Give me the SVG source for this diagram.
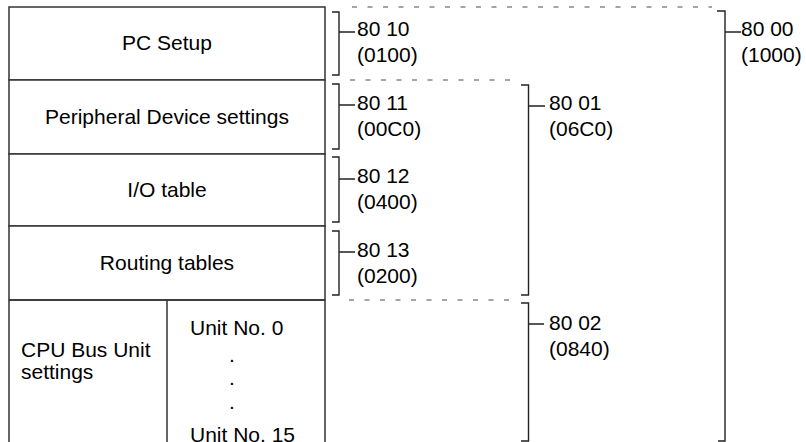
<svg xmlns="http://www.w3.org/2000/svg" width="806" height="442" viewBox="0 0 806 442">
<style>
text{font-family:"Liberation Sans",Arial,sans-serif;font-size:21px;fill:#000}
.c{text-anchor:middle}
.cell{fill:#fff;stroke:#333;stroke-width:1.5}
.ln{fill:none;stroke:#333;stroke-width:1.5}
.br{fill:none;stroke:#222;stroke-width:1.4}
.ds{fill:none;stroke:#888;stroke-width:1.3;stroke-dasharray:5 10.5}
</style>
<rect width="806" height="442" fill="#fff"/>
<g id="pc-setup">
<rect class="cell" x="9" y="7" width="316" height="73"/>
<text class="c" x="167" y="50">PC Setup</text>
</g>
<g id="peripheral-device-settings">
<rect class="cell" x="9" y="80" width="316" height="74"/>
<text class="c" x="167" y="124">Peripheral Device settings</text>
</g>
<g id="io-table">
<rect class="cell" x="9" y="154" width="316" height="72"/>
<text class="c" x="167" y="197">I/O table</text>
</g>
<g id="routing-tables">
<rect class="cell" x="9" y="226" width="316" height="74"/>
<text class="c" x="167" y="270">Routing tables</text>
</g>
<g id="cpu-bus-unit-settings">
<path class="ln" d="M9,300 V443 M325,300 V443 M9,300 H325 M167,300 V443"/>
<text x="21" y="357">CPU Bus Unit</text>
<text x="21" y="379">settings</text>
<text x="190" y="335">Unit No. 0</text>
<text class="c" x="232" y="362">.</text>
<text class="c" x="232" y="385">.</text>
<text class="c" x="232" y="409">.</text>
<text x="190" y="442">Unit No. 15</text>
</g>
<g id="connectors">
<path class="ds" d="M352,7 H712"/>
<path class="ds" d="M350,80 H518"/>
<path class="ds" d="M349,300 H518"/>
<path class="br" d="M332,12 H339 V75 H332 M339,32 H355"/>
<path class="br" d="M332,84 H339 V149 H332 M339,105 H355"/>
<path class="br" d="M332,157 H339 V222 H332 M339,179 H355"/>
<path class="br" d="M332,231 H339 V295 H332 M339,252 H355"/>
<path class="br" d="M521,85 H528.5 V295 H521 M528.5,106 H545"/>
<path class="br" d="M521,303 H528.5 V441 H521 M528.5,324 H544"/>
<path class="br" d="M717,11 H725 V441 H718 M725,32 H741"/>
</g>
<g id="label-8010"><text x="357" y="36">80 10</text><text x="357" y="62">(0100)</text></g>
<g id="label-8011"><text x="357" y="110">80 11</text><text x="357" y="136">(00C0)</text></g>
<g id="label-8012"><text x="357" y="183">80 12</text><text x="357" y="209">(0400)</text></g>
<g id="label-8013"><text x="357" y="257">80 13</text><text x="357" y="283">(0200)</text></g>
<g id="label-8001"><text x="549" y="110">80 01</text><text x="549" y="136">(06C0)</text></g>
<g id="label-8002"><text x="549" y="330">80 02</text><text x="549" y="356">(0840)</text></g>
<g id="label-8000"><text x="741" y="36">80 00</text><text x="741" y="62">(1000)</text></g>
</svg>
